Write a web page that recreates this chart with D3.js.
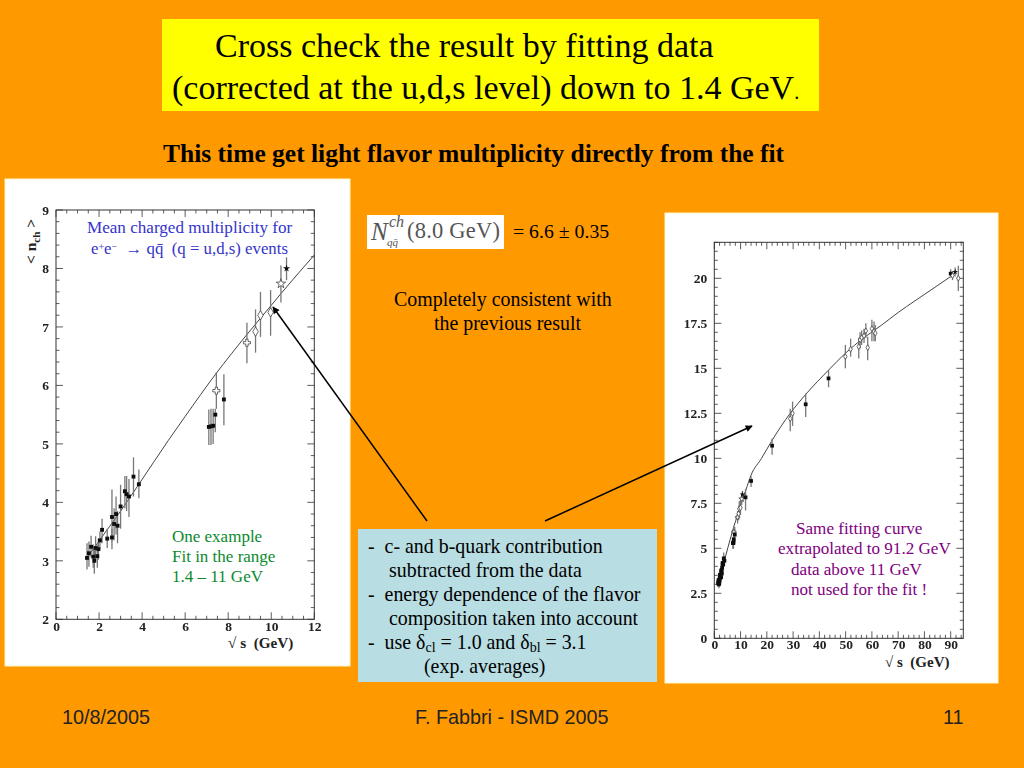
<!DOCTYPE html>
<html><head><meta charset="utf-8">
<script src="https://cdn.jsdelivr.net/npm/d3@7"></script>
<style>html,body{margin:0;padding:0;background:#FF9900}svg{display:block}
text{font-family:"Liberation Serif",serif;white-space:pre}</style></head><body><svg id="s" width="1024" height="768"></svg>
<script>
// ---- low-energy data (shared by both plots)
const lowX  =[1.44,1.53,1.63,1.73,1.78,1.84,1.92,1.97,2.04,2.14,2.38,2.6,2.6,2.7,2.79,2.86,3.0,3.2,3.28,3.39,3.6,3.85,7.1,7.2,7.3,7.4,7.45,7.8,8.87,9.27,9.5,9.97,10.45,10.71];
const lowY  =[3.05,3.13,3.24,3.07,3.0,3.22,3.08,3.2,3.35,3.53,3.38,3.75,3.4,3.63,3.8,3.6,3.93,4.19,4.14,4.1,4.44,4.31,5.29,5.3,5.31,5.5,5.91,5.76,6.73,6.92,7.2,7.25,7.74,8.0];
const lowHi =[3.3,3.33,3.43,3.28,3.22,3.42,3.28,3.38,3.5,3.72,3.55,4.22,3.55,3.9,4.1,3.85,4.3,4.45,4.45,4.4,4.77,4.56,5.59,5.6,5.6,5.6,6.23,6.19,7.07,7.3,7.6,7.63,8.05,8.19];
const lowLo =[2.85,2.9,3.06,2.88,2.78,3.02,2.88,3.02,3.2,3.3,3.22,3.33,3.2,3.35,3.45,3.3,3.55,3.9,3.85,3.75,4.1,4.07,4.98,4.98,5.0,5.2,5.6,5.32,6.38,6.56,6.83,6.85,7.42,7.8];
const lowKind=["sq","sq","sq","sq","sq","sq","sq","sq","sq","sq","sq","sq","sq","sq","sq","sq","sq","sq","sq","sq","sq","sq","sq","sq","sq","sq","cross","sq","cross","dia","dia","dia","ostar","star"];
// ---- high-energy data (right plot only)
const highX  =[11.9,14,22,28.9,29.8,34.8,43.5,49.9,51.9,55,55.5,56.1,57,57.7,58.4,60,60.8,61.3,90,90.7,91.7,92.9];
const highY  =[7.83,8.74,10.7,12.2,12.5,13,14.44,15.65,16.06,16.2,16.58,16.7,16.8,17.08,16.15,17.2,17.05,16.95,20.26,20.15,20.35,20];
const highHi =[8.3,9.0,11.1,12.75,13.15,13.6,14.9,16.3,16.65,16.7,17.0,17.1,17.2,17.5,16.75,17.7,17.6,17.4,20.5,20.4,20.6,20.7];
const highLo =[7.1,8.4,10.2,11.5,11.8,12.3,13.95,15.0,15.65,15.55,16.1,16.3,16.4,16.7,15.45,16.5,16.5,16.5,20.05,19.9,20.1,19.3];
const highKind=["sq","sq","sq","dia","dia","sq","sq","dia","dia","dia","dia","dia","dia","dia","dia","dia","dia","dia","sq","dia","star","dia"];
// ---- fit curve
const fitX=[1.4,2,3,3.85,5.22,6,7.43,8.87,10,10.45,12,14,18,22,28.9,34.8,43.5,50,57,63.7,70,76.4,84,91];
const fitY=[3.03,3.34,3.85,4.31,5.06,5.47,6.2,6.87,7.37,7.57,8.23,9.07,10.0,11.0,12.5,13.55,14.9,15.85,16.7,17.4,18.1,18.75,19.5,20.2];
// ---- ticks
const leftXTicks=[0,2,4,6,8,10,12], leftYTicks=[2,3,4,5,6,7,8,9];
const rightXTicks=[0,10,20,30,40,50,60,70,80,90], rightYTicks=[0,2.5,5,7.5,10,12.5,15,17.5,20];
const rightYLabels=["0","2.5","5","7.5","10","12.5","15","17.5","20"];

const svg=d3.select("#s");
const defs=svg.append("defs");
defs.append("filter").attr("id","soft").append("feGaussianBlur").attr("stdDeviation",0.4);
const mk=defs.append("marker").attr("id","ah").attr("viewBox","0 0 10 10").attr("refX",9).attr("refY",5)
 .attr("markerWidth",9).attr("markerHeight",7).attr("markerUnits","userSpaceOnUse").attr("orient","auto");
mk.append("path").attr("d","M0,0L10,5L0,10z").attr("fill","#000");

function rect(x,y,w,h,f,st){return svg.append("rect").attr("x",x).attr("y",y).attr("width",w).attr("height",h).attr("fill",f).attr("stroke",st||"none");}
function txt(x,y,s,size,fill,weight,anchor){const t=svg.append("text").attr("x",x).attr("y",y).attr("font-size",size).attr("fill",fill||"#000");
 if(weight)t.attr("font-weight",weight); if(anchor)t.attr("text-anchor",anchor); t.text(s); return t;}

rect(0,0,1024,768,"#FF9900");
rect(162,19,657,92,"#FFFF00");
txt(215,57,"Cross check the result by fitting data",34);
const t2=txt(172,99,"(corrected at the u,d,s level) down to 1.4 GeV",34);
t2.append("tspan").attr("font-size",20).text(".");
txt(163,162,"This time get light flavor multiplicity directly from the fit",25.5,"#000","bold");

rect(5,179,345,487,"#fff","#FFF6C8");
rect(665,213,333,470,"#fff","#FFF6C8");
rect(367,215,137,34,"#fff");

function plot(o){
 const g=svg.append("g").attr("filter","url(#soft)");
 const x=d3.scaleLinear().domain(o.xd).range(o.xr), y=d3.scaleLinear().domain(o.yd).range(o.yr);
 const [L,R]=o.xr,[B,T]=o.yr;
 const col="#333";
 g.append("rect").attr("x",L).attr("y",T).attr("width",R-L).attr("height",B-T).attr("fill","none").attr("stroke",col).attr("stroke-width",1);
 const minX=d3.range(o.xd[0],o.xd[1]+1e-6,o.xMinor), minY=d3.range(o.yd[0],o.yd[1]+1e-6,o.yMinor);
 const isMaj=(v,arr)=>arr.some(m=>Math.abs(m-v)<1e-6);
 const tickG=g.append("g").attr("stroke",col).attr("stroke-width",.8);
 minX.forEach(v=>{const l=isMaj(v,o.xTicks)?7:3.5;
  tickG.append("line").attr("x1",x(v)).attr("x2",x(v)).attr("y1",B).attr("y2",B-l);
  tickG.append("line").attr("x1",x(v)).attr("x2",x(v)).attr("y1",T).attr("y2",T+l);});
 minY.forEach(v=>{const l=isMaj(v,o.yTicks)?7:3.5;
  tickG.append("line").attr("x1",L).attr("x2",L+l).attr("y1",y(v)).attr("y2",y(v));
  tickG.append("line").attr("x1",R).attr("x2",R-l).attr("y1",y(v)).attr("y2",y(v));});
 const axB=g.append("g").attr("transform",`translate(0,${B})`).call(d3.axisBottom(x).tickValues(o.xTicks).tickSize(0).tickPadding(o.xPad).tickFormat(d3.format("d")));
 const axL=g.append("g").attr("transform",`translate(${L},0)`).call(d3.axisLeft(y).tickValues(o.yTicks).tickSize(0).tickPadding(o.yPad).tickFormat((d,i)=>o.yLabels?o.yLabels[i]:d));
 [axB,axL].forEach(a=>{a.select(".domain").remove();a.selectAll("text").attr("font-family","Liberation Serif").attr("font-size",13.5).attr("font-weight","bold").attr("fill","#222");});
 const idx=d3.range(fitX.length).filter(i=>fitX[i]<=o.xd[1]);
 g.append("path").attr("d",d3.line().x(i=>x(fitX[i])).y(i=>y(fitY[i])).curve(d3.curveMonotoneX)(idx)).attr("fill","none").attr("stroke","#444").attr("stroke-width",1);
 o.sets.forEach(([X,Y,H,Lo,K])=>{
  X.forEach((v,i)=>{
   g.append("line").attr("x1",x(v)).attr("x2",x(v)).attr("y1",y(H[i])).attr("y2",y(Lo[i])).attr("stroke","#777").attr("stroke-width",1.3);
  });
  X.forEach((v,i)=>{
   const k=K[i], open=k!="sq"&&k!="star";
   const type={sq:d3.symbolSquare,star:d3.symbolStar,ostar:d3.symbolStar,cross:d3.symbolCross,dia:d3.symbolDiamond}[k];
   const size=(k=="sq"?o.sq:k=="star"?o.star:k=="dia"?o.dia:o.open);
   g.append("path").attr("transform",`translate(${x(v)},${y(Y[i])})`).attr("d",d3.symbol().type(type).size(size)())
    .attr("fill",open?"#fff":"#111").attr("stroke",open?"#444":"none").attr("stroke-width",.8);
  });
 });
}
plot({xd:[0,12],xr:[56,314.3],yd:[2,9],yr:[619.3,210],xTicks:leftXTicks,yTicks:leftYTicks,xMinor:.5,yMinor:.2,xPad:2,yPad:7,sq:15,star:16,dia:26,open:28,
 sets:[[lowX,lowY,lowHi,lowLo,lowKind]]});
plot({xd:[0,94.8],xr:[714.3,963.3],yd:[0,22],yr:[638.3,242.3],xTicks:rightXTicks,yTicks:rightYTicks,yLabels:rightYLabels,xMinor:2,yMinor:.5,xPad:1.5,yPad:7,sq:14,star:10,dia:10,open:11,
 sets:[[lowX,lowY,lowHi,lowLo,lowKind],[highX,highY,highHi,highLo,highKind]]});

txt(228,648,"\u221A s  (GeV)",15.2,"#222","bold");
txt(885,667,"\u221A s  (GeV)",15,"#222","bold");
const yl=svg.append("text").attr("transform","translate(36,264) rotate(-90)").attr("font-size",15.5).attr("font-weight","bold").attr("fill","#222");
yl.append("tspan").text("< n");yl.append("tspan").attr("font-size",11).attr("dy",4).text("ch");yl.append("tspan").attr("dy",-4).text(" >");

txt(87,233,"Mean charged multiplicity for",17.1,"#3333CC");
const e=txt(91,254,"e",16.8,"#3333CC");
e.append("tspan").attr("font-size",10).attr("dy",-4).text("+");
e.append("tspan").attr("dy",4).text("e");
e.append("tspan").attr("font-size",10).attr("dy",-4).text("\u2212");
e.append("tspan").attr("dy",4).text("  \u2192 qq\u0304  (q = u,d,s) events");
["One example","Fit in the range","1.4 \u2013 11 GeV"].forEach((s,i)=>txt(172,542+i*20,s,17,"#0B8A2E"));
[[796,"Same fitting curve"],[778,"extrapolated to 91.2 GeV"],[791,"data above 11 GeV"],[791,"not used for the fit !"]].forEach((d,i)=>txt(d[0],534+i*20.3,d[1],17.1,"#800080"));

// formula
txt(371,240,"N",25,"#555").attr("font-style","italic");
txt(389,227,"ch",16,"#555").attr("font-style","italic");
txt(387,246,"qq\u0304",11,"#555").attr("font-style","italic");
txt(407,238,"(8.0 GeV)",22.5,"#555").attr("textLength",93);
txt(513,238,"= 6.6 \u00B1 0.35",19.8);
txt(394,306,"Completely consistent with",19.9);
txt(434,330,"the previous result",19.9);

rect(358,529,299,153,"#B8DDE3");
const bs=19.9;
txt(368,553,"-  c- and b-quark contribution",bs);
txt(389,577,"subtracted from the data",bs);
txt(368,601,"-  energy dependence of the flavor",bs);
txt(389,625,"composition taken into account",bs);
const d=txt(368,649,"-  use ",bs);
d.append("tspan").text("\u03B4");d.append("tspan").attr("font-size",14).attr("dy",3).text("cl");
d.append("tspan").attr("dy",-3).text(" = 1.0 and ");d.append("tspan").text("\u03B4");
d.append("tspan").attr("font-size",14).attr("dy",3).text("bl");d.append("tspan").attr("dy",-3).text(" = 3.1");
txt(424,673,"(exp. averages)",bs);

svg.append("line").attr("x1",427).attr("y1",521).attr("x2",273).attr("y2",307).attr("stroke","#000").attr("stroke-width",1.5).attr("marker-end","url(#ah)");
svg.append("line").attr("x1",545).attr("y1",521).attr("x2",752).attr("y2",426).attr("stroke","#000").attr("stroke-width",1.5).attr("marker-end","url(#ah)");

[[62,"10/8/2005"],[415,"F. Fabbri - ISMD 2005"],[943,"11"]].forEach(a=>{txt(a[0],724,a[1],19.8,"#222").style("font-family","Liberation Sans");});
</script></body></html>
